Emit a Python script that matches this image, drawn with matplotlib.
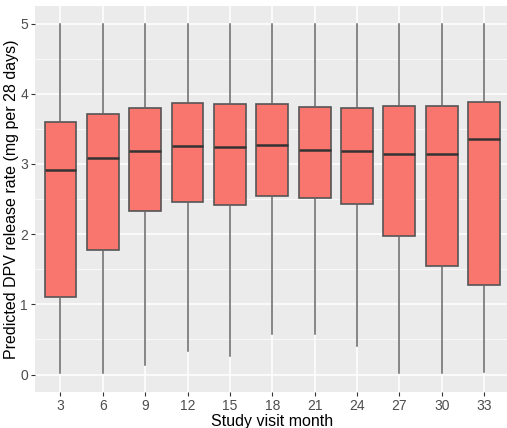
import numpy as np
import matplotlib.pyplot as plt

plt.rcParams['font.family'] = ['Liberation Sans', 'DejaVu Sans']

# Box summaries per study visit month
months = ['3', '6', '9', '12', '15', '18', '21', '24', '27', '30', '33']
whisker_low = [0.02, 0.02, 0.14, 0.33, 0.26, 0.57, 0.58, 0.41, 0.02, 0.02, 0.04]
q1 = [1.10, 1.78, 2.33, 2.46, 2.41, 2.55, 2.52, 2.43, 1.97, 1.54, 1.27]
median = [2.92, 3.09, 3.19, 3.25, 3.24, 3.27, 3.20, 3.19, 3.14, 3.14, 3.36]
q3 = [3.60, 3.71, 3.80, 3.87, 3.86, 3.86, 3.81, 3.79, 3.83, 3.83, 3.88]
whisker_high = [5.0] * 11

stats = []
for i, m in enumerate(months):
    stats.append(dict(label=m, whislo=whisker_low[i], q1=q1[i], med=median[i],
                      q3=q3[i], whishi=whisker_high[i], fliers=[]))

fig = plt.figure(figsize=(5.07, 4.28), dpi=100)
ax = fig.add_axes([35 / 507, 36.3 / 428, 474.5 / 507, 385.7 / 428])
ax.set_facecolor('#EBEBEB')

pos = np.arange(1, len(months) + 1)
ax.bxp(stats, positions=pos, widths=0.75, patch_artist=True, showcaps=False,
       boxprops=dict(facecolor='#F8766D', edgecolor='#555555', linewidth=1.2),
       medianprops=dict(color='#333333', linewidth=1.8),
       whiskerprops=dict(color='#666666', linewidth=1.1),
       zorder=3)

ax.set_xlim(0.4, len(months) + 0.6)
ax.set_ylim(-0.245, 5.25)
ax.set_xticks(pos)
ax.set_xticklabels(months)
ax.set_yticks([0, 1, 2, 3, 4, 5])
ax.set_yticks([0.5, 1.5, 2.5, 3.5, 4.5], minor=True)

ax.grid(which='major', color='white', linewidth=1.1, zorder=0)
ax.grid(which='minor', axis='y', color='white', linewidth=0.5, zorder=0)
ax.set_axisbelow(True)
for s in ax.spines.values():
    s.set_visible(False)

ax.tick_params(which='major', length=3, width=0.8, color='#333333',
               labelcolor='#4D4D4D', labelsize=10, pad=2)
ax.tick_params(which='minor', length=0)

ax.set_xlabel('Study visit month', fontsize=11.5, color='black', labelpad=1)
ax.set_ylabel('Predicted DPV release rate (mg per 28 days)', fontsize=11.5,
              color='black', labelpad=0.5)

fig.savefig('out.png', dpi=100)
